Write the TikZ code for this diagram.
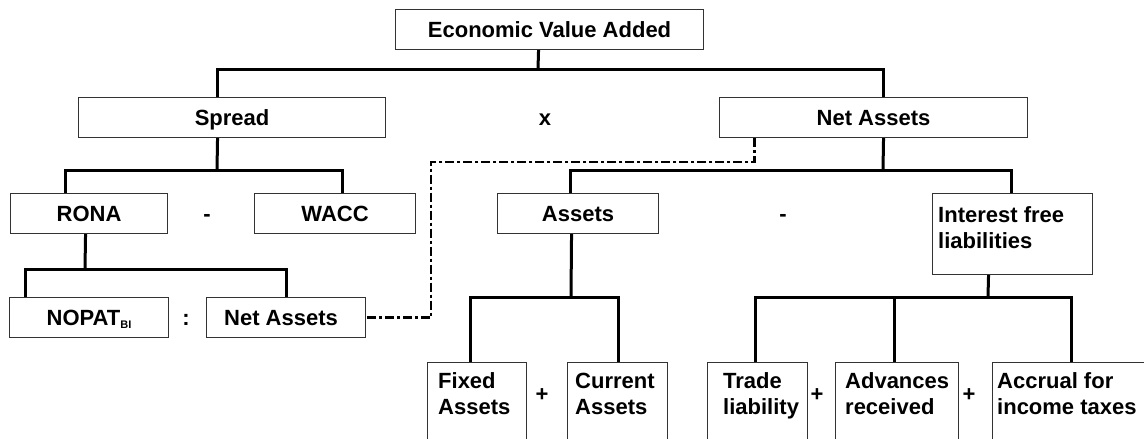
\documentclass[tikz,border=0pt]{standalone}
\usepackage{fontspec}
\setmainfont{Liberation Sans}
\begin{document}
\begin{tikzpicture}[x=1pt,y=-1pt,
  every node/.style={font=\fontsize{22}{26}\selectfont\bfseries, inner sep=0pt},
  box/.style={draw=black!80, line width=1.1pt, fill=white, anchor=north west,
    text height=15.75pt, text depth=0pt},
  lbl/.style={anchor=north west, align=left},
  op/.style={anchor=base},
  conn/.style={line width=3pt, line join=miter},
  dd/.style={line width=2.8pt, dash pattern=on 9pt off 3pt on 3pt off 3pt}]
\useasboundingbox (0,0) rectangle (1144,439);
\clip (0,0) rectangle (1144,439);

% boxes
\node[box, minimum width=308pt, minimum height=40pt] (eva) at (395,9) {Economic Value Added};
\node[box, minimum width=307pt, minimum height=40pt] (spread) at (78,97) {Spread};
\node[box, minimum width=308pt, minimum height=40pt] (na) at (719,97) {Net Assets};
\node[box, minimum width=157pt, minimum height=40pt] (rona) at (10,193) {RONA};
\node[box, minimum width=161pt, minimum height=40pt] (wacc) at (254,193) {WACC};
\node[box, minimum width=161pt, minimum height=40pt] (assets) at (497,193) {Assets};
\node[box, minimum width=160pt, minimum height=81pt] (ifl) at (932,193) {};
\node[box, minimum width=159pt, minimum height=40pt] (nopat) at (9,297) {NOPAT\raisebox{-3pt}{\fontsize{11}{11}\selectfont BI}};
\node[box, minimum width=159pt, minimum height=40pt] (nas) at (206,297) {\hspace*{-10pt}Net Assets};
\node[box, minimum width=99pt, minimum height=110pt] (fixed) at (427,362) {};
\node[box, minimum width=100pt, minimum height=110pt] (current) at (567,362) {};
\node[box, minimum width=100pt, minimum height=110pt] (trade) at (707,362) {};
\node[box, minimum width=123pt, minimum height=110pt] (adv) at (835,362) {};
\node[box, minimum width=180pt, minimum height=110pt] (accr) at (992,362) {};

% labels inside tall boxes
\node[lbl] (tifl) at ([xshift=6pt,yshift=-13pt]ifl.north west) {Interest free\\liabilities};
\node[lbl] (tfixed) at ([xshift=11pt,yshift=-10.5pt]fixed.north west) {Fixed\\Assets};
\node[lbl] (tcurrent) at ([xshift=8pt,yshift=-10.5pt]current.north west) {Current\\Assets};
\node[lbl] (ttrade) at ([xshift=16pt,yshift=-10.5pt]trade.north west) {Trade\\liability};
\node[lbl] (tadv) at ([xshift=10pt,yshift=-10.5pt]adv.north west) {Advances\\received};
\node[lbl] (taccr) at ([xshift=5pt,yshift=-10.5pt]accr.north west) {Accrual for\\income taxes};

% operators
\node[op] (opx) at (545,125) {x};
\node[op] (opm1) at (207,221) {-};
\node[op] (opm2) at (783,221) {-};
\node[op] (opc) at (186,325) {:};
\node (opp1) at (542,395) {+};
\node (opp2) at (817,395) {+};
\node (opp3) at (969,395) {+};

% junctions
\coordinate (j1) at (538,69);
\coordinate (j2) at (217,170);
\coordinate (j3) at (883,170);
\coordinate (j4) at (85,269);
\coordinate (j5) at (571,297);
\coordinate (j6) at (988,297);
\coordinate (d1) at (431,162);

% connectors
\draw[conn] ([xshift=-11pt]eva.south) -- (j1);
\draw[conn] ([xshift=-14.5pt]spread.north) |- (j1) -| ([xshift=10pt]na.north);

\draw[conn] ([xshift=-14.5pt]spread.south) -- (j2);
\draw[conn] ([xshift=-23.5pt]rona.north) |- (j2) -| ([xshift=7.5pt]wacc.north);

\draw[conn] ([xshift=10pt]na.south) -- (j3);
\draw[conn] ([xshift=-7.5pt]assets.north) |- (j3) -| ([xshift=-1pt]ifl.north);

\draw[conn] ([xshift=-3.5pt]rona.south) -- (j4);
\draw[conn] ([xshift=-63.5pt]nopat.north) |- (j4) -| (nas.north);

\draw[conn] ([xshift=-6.5pt]assets.south) -- (j5);
\draw[conn] ([xshift=-6.5pt]fixed.north) |- (j5) -| ([xshift=1pt]current.north);

\draw[conn] ([xshift=-24pt]ifl.south) -- (j6);
\draw[conn] ([xshift=-2pt]trade.north) |- (j6) -| ([xshift=-11pt]accr.north);
\draw[conn] ([xshift=-2.5pt]adv.north) -- ([xshift=-2.5pt]adv.north |- j6);

% dash-dot link
\draw[dd] ([xshift=-119pt]na.south) |- (d1) |- (nas.east);
\end{tikzpicture}
\end{document}
